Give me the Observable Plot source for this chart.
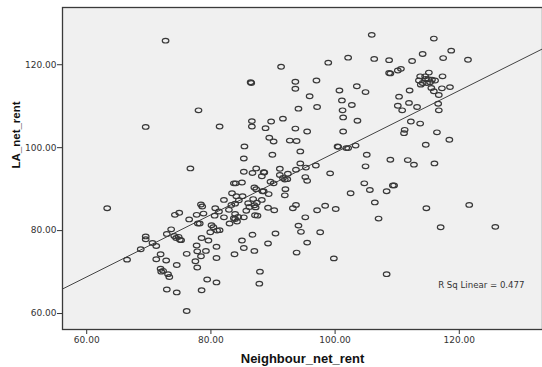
<!DOCTYPE html>
<html>
<head>
<meta charset="utf-8">
<script src="https://cdn.jsdelivr.net/npm/d3@7"></script>
<script src="https://cdn.jsdelivr.net/npm/@observablehq/plot@0.6"></script>
<style>
  html, body { margin: 0; padding: 0; background: #ffffff; }
  #chart { width: 542px; height: 367px; }
</style>
</head>
<body>
<div id="chart"></div>
<script>
// Neighbour_net_rent (x) values
const neighbourRent = [
  72.7,105.9,115.9,118.7,114.1,117.4,121.4,102.1,106.3,108.7,112.4,98.9,91.3,110.6,110.1,108.7,108.9,
  86.4,86.5,93.6,97.0,93.6,95.9,103.5,104.9,100.7,101.1,102.7,94.1,97.1,101.2,101.3,103.6,91.6,78.0,
  69.5,81.4,86.6,86.6,89.7,88.8,93.6,95.5,101.3,89.4,90.1,92.7,93.8,85.4,94.4,89.9,85.3,100.4,100.5,
  101.8,102.1,103.3,105.1,104.9,108.9,111.7,112.7,114.6,116.0,118.4,116.4,111.2,111.1,112.2,113.7,
  113.2,111.9,110.1,110.8,110.3,112.0,116.7,116.6,116.7,117.2,118.5,117.3,
  113.7,114.5,113.5,114.1,115.0,115.1,115.6,116.1,115.5,115.9,114.8,113.8,114.6,115.3,
  63.3,66.5,68.7,69.5,69.5,70.6,71.2,71.2,71.9,71.9,72.0,72.8,72.9,72.9,73.1,73.3,73.6,74.2,74.9,
  74.1,74.4,74.8,75.0,75.2,74.5,74.5,76.1,76.1,76.5,76.7,77.5,77.7,77.8,77.8,77.7,77.9,78.2,78.4,
  78.6,78.5,78.4,78.8,78.5,79.2,79.4,79.6,79.9,80.1,80.4,80.6,80.7,81.0,81.4,80.9,80.9,80.9,82.1,
  81.3,82.1,83.0,82.9,83.4,83.7,84.0,83.9,84.1,83.3,83.9,84.4,83.9,84.2,83.7,83.8,85.0,85.3,85.1,
  85.3,85.7,85.0,85.3,86.0,86.7,87.3,87.0,87.3,86.8,87.0,87.2,87.4,87.1,87.5,86.7,87.0,87.9,87.8,
  88.2,88.5,88.6,88.2,88.3,88.5,89.3,89.2,89.6,90.2,89.2,90.4,90.1,91.1,91.1,91.6,91.9,92.3,92.4,
  92.0,91.9,93.7,94.4,95.3,96.9,95.2,95.5,93.7,93.2,95.2,94.1,94.5,95.5,93.8,97.1,98.4,97.6,99.2,
  100.1,99.8,102.5,104.7,105.6,106.4,107.0,108.3,109.3,109.5,108.3,114.7,117.0,121.6,125.8,
  86.2,72.3,84.5
];

// LA_net_rent (y) values
const laRent = [
  125.8,127.2,126.3,123.4,122.6,121.6,121.2,121.7,121.4,121.1,120.9,120.5,119.5,119.0,118.6,118.0,117.9,
  115.8,115.6,115.9,116.2,114.2,112.4,114.8,113.4,113.8,111.4,110.3,109.4,109.8,109.0,107.3,106.5,107.0,109.0,
  105.0,105.1,106.4,105.1,106.3,104.7,104.6,103.9,103.9,102.4,101.5,101.7,101.6,100.3,99.1,98.3,97.4,100.3,100.2,
  99.9,99.9,100.5,98.3,95.5,97.1,97.0,95.9,100.7,96.2,101.9,103.7,104.3,103.5,106.3,105.8,
  109.8,110.8,110.1,109.0,112.3,113.8,109.0,110.6,112.7,114.3,114.6,117.2,
  117.2,117.2,116.2,115.6,116.5,118.1,116.4,116.2,114.4,113.6,115.6,115.2,116.6,115.8,
  85.4,73.0,75.5,78.6,77.9,77.0,76.3,73.1,74.3,70.8,70.1,72.8,65.8,79.2,69.5,68.8,80.3,83.8,84.3,
  78.7,78.2,78.5,77.8,77.7,71.7,65.1,60.6,74.4,82.7,95.0,72.6,76.4,75.0,71.1,83.8,81.7,81.7,86.3,
  85.8,78.2,73.8,84.1,65.6,75.1,68.2,77.6,79.6,81.3,80.8,83.6,85.4,80.0,80.1,76.1,73.4,67.5,87.4,
  84.6,83.2,81.7,85.0,89.0,91.4,91.4,86.5,88.3,86.2,84.0,83.3,82.8,82.2,83.0,74.3,91.6,94.2,88.3,
  83.2,84.8,77.6,75.8,86.6,93.9,95.0,90.4,90.0,87.6,86.1,85.6,86.7,83.7,83.6,79.0,75.1,70.1,67.2,
  93.1,94.1,94.0,87.4,89.5,89.5,88.8,85.5,91.8,84.9,76.9,79.3,91.4,94.9,93.4,92.7,92.3,92.4,93.7,
  90.0,88.5,94.7,96.2,95.2,95.7,92.9,92.0,86.2,85.4,83.2,81.2,79.7,77.1,74.7,84.9,86.0,79.6,93.8,
  85.2,73.3,89.0,91.4,89.8,86.8,82.9,89.5,90.9,90.9,69.5,85.4,80.8,86.2,80.9,
  85.7,70.3,87.3
];

// Axis ticks and fit summary shown on the chart
const xTicks = [60, 80, 100, 120];
const yTicks = [60, 80, 100, 120];
const xDomain = [56.1, 133.4];
const yDomain = [56.15, 133.8];
const fitIntercept = 23.9;
const fitSlope = 0.749;
const rSquared = 0.477;
const xLabel = "Neighbour_net_rent";
const yLabel = "LA_net_rent";

const points = neighbourRent.map((x, i) => ({x, y: laRent[i]}));
const fitLine = [{
  x1: xDomain[0], y1: fitIntercept + fitSlope * xDomain[0],
  x2: xDomain[1], y2: fitIntercept + fitSlope * xDomain[1]
}];

// SPSS-like slightly wide elliptical markers
const ellipse = {
  draw(ctx, size) {
    const r = Math.sqrt(size / Math.PI);
    const rx = r * 1.1, ry = r * 0.78, k = 0.5523;
    ctx.moveTo(rx, 0);
    ctx.bezierCurveTo(rx, ry * k, rx * k, ry, 0, ry);
    ctx.bezierCurveTo(-rx * k, ry, -rx, ry * k, -rx, 0);
    ctx.bezierCurveTo(-rx, -ry * k, -rx * k, -ry, 0, -ry);
    ctx.bezierCurveTo(rx * k, -ry, rx, -ry * k, rx, 0);
    ctx.closePath();
  }
};

const chart = Plot.plot({
  width: 542,
  height: 367,
  marginLeft: 62,
  marginRight: 0,
  marginTop: 7,
  marginBottom: 38,
  style: {background: "#ffffff", color: "#333333", fontFamily: "DejaVu Sans", fontSize: "9px"},
  x: {domain: xDomain, ticks: xTicks, tickFormat: d3.format(".2f"), tickSize: 5, tickPadding: 2, label: null},
  y: {domain: yDomain, ticks: yTicks, tickFormat: d3.format(".2f"), tickSize: 5, tickPadding: 1, label: null},
  marks: [
    Plot.frame({fill: "#f0f0f0", stroke: "none"}),
    Plot.link(fitLine, {x1: "x1", y1: "y1", x2: "x2", y2: "y2", stroke: "#444444", strokeWidth: 1}),
    Plot.dot(points, {x: "x", y: "y", symbol: ellipse, r: 3, stroke: "#383838", strokeWidth: 1.2, fill: "none"}),
    Plot.frame({stroke: "#3a3a3a", strokeWidth: 1.3}),
    Plot.text([`R Sq Linear = ${rSquared}`], {frameAnchor: "bottom-right", dx: -18, dy: -44, textAnchor: "end", lineAnchor: "middle", fontSize: 8.6, fontFamily: "DejaVu Sans", fill: "#333333"}),
    Plot.text([xLabel], {frameAnchor: "bottom", dy: 29, lineAnchor: "middle", fontSize: 13, fontWeight: "bold", fontFamily: "Liberation Sans", fill: "#111111"}),
    Plot.text([yLabel], {frameAnchor: "left", dx: -46, rotate: -90, lineAnchor: "middle", fontSize: 11.5, fontWeight: "bold", fontFamily: "Liberation Sans", fill: "#111111"})
  ]
});

document.getElementById("chart").append(chart);
</script>
</body>
</html>
